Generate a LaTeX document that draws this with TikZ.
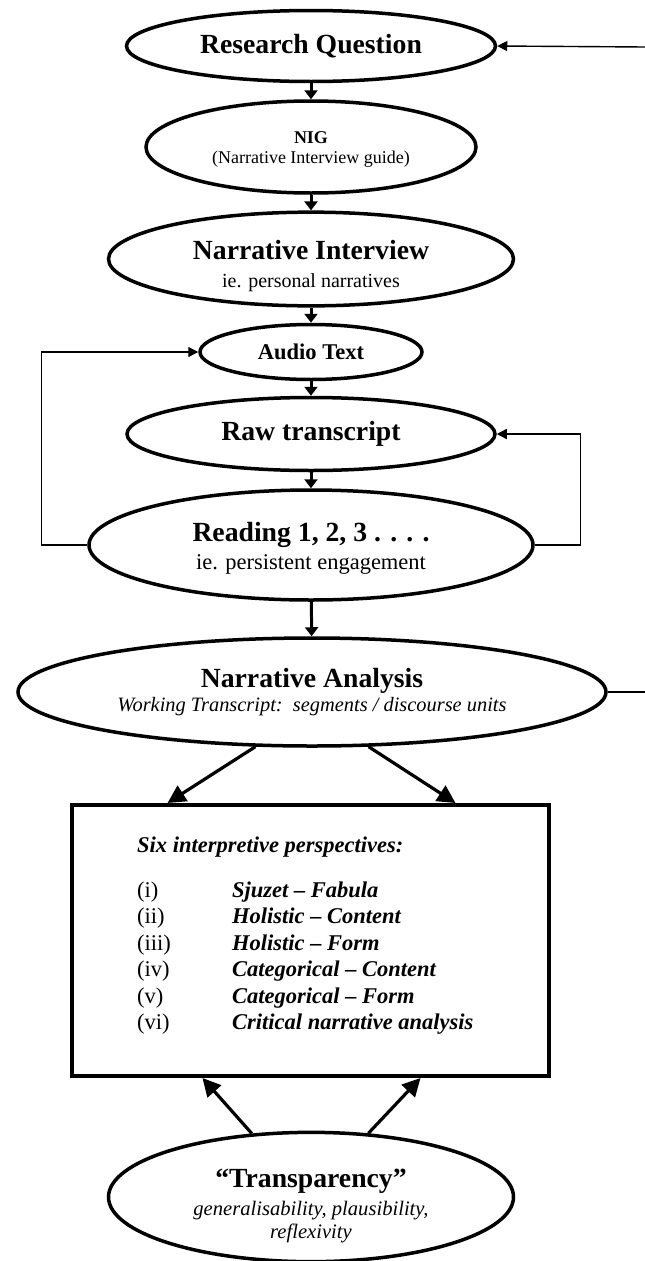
\documentclass[tikz,border=0pt]{standalone}
\usepackage{fontspec}
\setmainfont{Liberation Serif}
\usetikzlibrary{shapes.geometric,arrows.meta}

\newcommand{\headfont}{\fontsize{27.7}{31}\selectfont\bfseries}
\newcommand{\listfont}{\fontsize{22.5}{26.5}\selectfont}

\tikzset{
  stage/.style={ellipse, draw, line width=3.5pt, inner sep=0pt, align=center},
  flow/.style={line width=3pt, -{Triangle[length=9pt,width=13pt]}},
  bigflow/.style={line width=3.2pt, -{Triangle[length=18pt,width=18pt]}},
  back/.style={line width=1.4pt, -{Triangle[length=10pt,width=10pt]}},
  plain/.style={line width=1.4pt},
  item/.style={anchor=base west, inner sep=0pt, font=\listfont},
  persp/.style={item, font=\listfont\bfseries\itshape}
}

\begin{document}
\begin{tikzpicture}[x=1pt,y=-1pt]
\useasboundingbox (0,0) rectangle (645,1261);

            % stages
            \node[stage, minimum width=369, minimum height=71] (rq) at (311,46) {\headfont Research Question};
            \node[stage, minimum width=330, minimum height=92, font=\fontsize{18}{20}\selectfont] (nig) at (311,147) {{\bfseries\rule{0pt}{17pt}NIG}\\(Narrative Interview guide)};
            \node[stage, minimum width=405, minimum height=90, font=\fontsize{20}{28}\selectfont] (ni) at (311,259) {{\headfont\rule{0pt}{34pt}Narrative Interview}\\ie. personal narratives};
            \node[stage, minimum width=222, minimum height=55] (audio) at (311,352) {\fontsize{22.5}{26}\selectfont\bfseries Audio Text};
            \node[stage, minimum width=368, minimum height=73] (raw) at (311,434) {\headfont Raw transcript};
            \node[stage, minimum width=444, minimum height=110, font=\fontsize{22.5}{28}\selectfont] (read) at (311,545) {{\headfont\rule{0pt}{26pt}Reading 1, 2, 3 . . . .}\\ie. persistent engagement};
            \node[stage, minimum width=588, minimum height=108, font=\fontsize{20.4}{24}\selectfont] (na) at (312,692) {{\headfont Narrative Analysis}\\\itshape Working Transcript:\ \ segments / discourse units};
            \node[stage, minimum width=405, minimum height=121, font=\fontsize{20.6}{23}\selectfont\itshape] (trans) at (311,1197) {{\headfont\upshape\rule{0pt}{36pt}``Transparency''}\\[5pt]generalisability, plausibility,\\reflexivity};

            % perspectives box
            \node[draw, line width=4pt, minimum width=477, minimum height=271, inner sep=0pt] (box) at (310.5,940.5) {};
            \node[persp] (six) at (137,852) {Six interpretive perspectives:};
            \node[item] (n1) at (137,897) {(i)};
            \node[item] (n2) at (137,923.5) {(ii)};
            \node[item] (n3) at (137,950) {(iii)};
            \node[item] (n4) at (137,976.5) {(iv)};
            \node[item] (n5) at (137,1003) {(v)};
            \node[item] (n6) at (137,1029.5) {(vi)};
            \node[persp] (p1) at (232,897) {Sjuzet -- Fabula};
            \node[persp] (p2) at (232,923.5) {Holistic -- Content};
            \node[persp] (p3) at (232,950) {Holistic -- Form};
            \node[persp] (p4) at (232,976.5) {Categorical -- Content};
            \node[persp] (p5) at (232,1003) {Categorical -- Form};
            \node[persp] (p6) at (232,1029.5) {Critical narrative analysis};

            % loose ends at the right margin
            \coordinate (rqfeed) at (645,47);
            \coordinate (naloop) at (645,692);

            % flow
            \draw[flow] (rq) -- (nig);
            \draw[flow] (nig) -- (ni);
            \draw[flow] (ni) -- (audio);
            \draw[flow] (audio) -- (raw);
            \draw[flow] (raw) -- (read);
            \draw[flow] (read) -- (na);
            \draw[bigflow] (na.224) -- ([xshift=-143pt]box.north);
            \draw[bigflow] (na.316) -- ([xshift=145pt]box.north);
            \draw[bigflow] (trans.133) -- ([xshift=-108pt]box.south);
            \draw[bigflow] (trans.48) -- ([xshift=110pt]box.south);

            % feedback lines
            \draw[back] (rqfeed) -- (rq.east);
            \draw[back] (read.west) -- ++(-46,0) |- (audio.west);
            \draw[back] (read.east) -- ++(46,0) |- (raw.east);
            \draw[plain] (na.east) -- (naloop);
\end{tikzpicture}
\end{document}
